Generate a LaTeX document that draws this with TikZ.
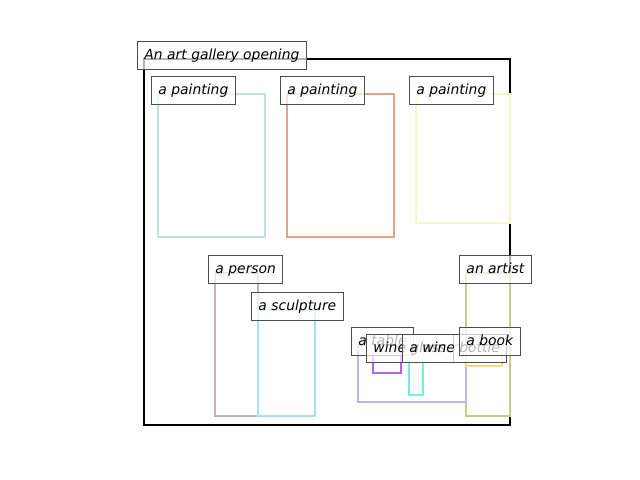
\documentclass[tikz,border=0pt]{standalone}
\usepackage{fontspec}
\newfontfamily\tagfont{DejaVu Sans}
\usepackage{tikz}
\usetikzlibrary{positioning}
\definecolor{cpaintA}{RGB}{196,222,228}
\definecolor{cpaintB}{RGB}{226,160,132}
\definecolor{cpaintC}{RGB}{246,246,196}
\definecolor{cperson}{RGB}{204,172,204}
\definecolor{csculpt}{RGB}{164,226,246}
\definecolor{cartist}{RGB}{200,204,138}
\definecolor{cbook}{RGB}{242,216,146}
\definecolor{ctable}{RGB}{178,186,236}
\definecolor{cglass}{RGB}{180,100,242}
\definecolor{cbottle}{RGB}{116,240,218}
\tikzset{
    every picture/.style={line width=0.5pt},
    objbox/.style={line width=1.7pt},
    scenebox/.style={line width=1.8pt,draw=black},
    tag/.style={draw=black!70,line width=0.7pt,fill=white,fill opacity=0.7,text opacity=1,
        anchor=base west,xshift=-5pt,inner sep=5pt,text height=7.5pt,text depth=2.5pt,
        font=\tagfont\itshape\fontsize{10pt}{12pt}\selectfont}
}
% name/x1/y1/x2/y2/colour/label, in pixels from the top left
\def\objlist{paintA/158/94/265/237/cpaintA/a painting,
    paintB/287/94/394/237/cpaintB/a painting,
    paintC/416/94/510/223/cpaintC/a painting,
    person/215/273/258/416/cperson/a person,
    sculpt/258/310/315/416/csculpt/a sculpture,
    artist/466/273/510/416/cartist/an artist,
    table/358/345/466/402/ctable/a table,
    glass/373/352/401/373/cglass/wine glass,
    bottle/409/352/423/395/cbottle/a wine bottle,
    book/466/345/502/366/cbook/a book}
\begin{document}
\begin{tikzpicture}[x=0.72pt,y=-0.72pt]
    \useasboundingbox (0,0) rectangle (640,480);
    % scene and objects
    \draw[scenebox] (144,59) rectangle (510,425);
    \foreach \name/\xa/\ya/\xb/\yb/\col/\txt in \objlist {
        \draw[objbox,draw=\col] (\xa,\ya) rectangle (\xb,\yb);
    }
    % labels on top
    \node[tag] (scene) at (144,59) {An art gallery opening};
    \foreach \name/\xa/\ya/\xb/\yb/\col/\txt in \objlist {
        \node[tag] (\name) at (\xa,\ya) {\txt};
    }
\end{tikzpicture}
\end{document}
